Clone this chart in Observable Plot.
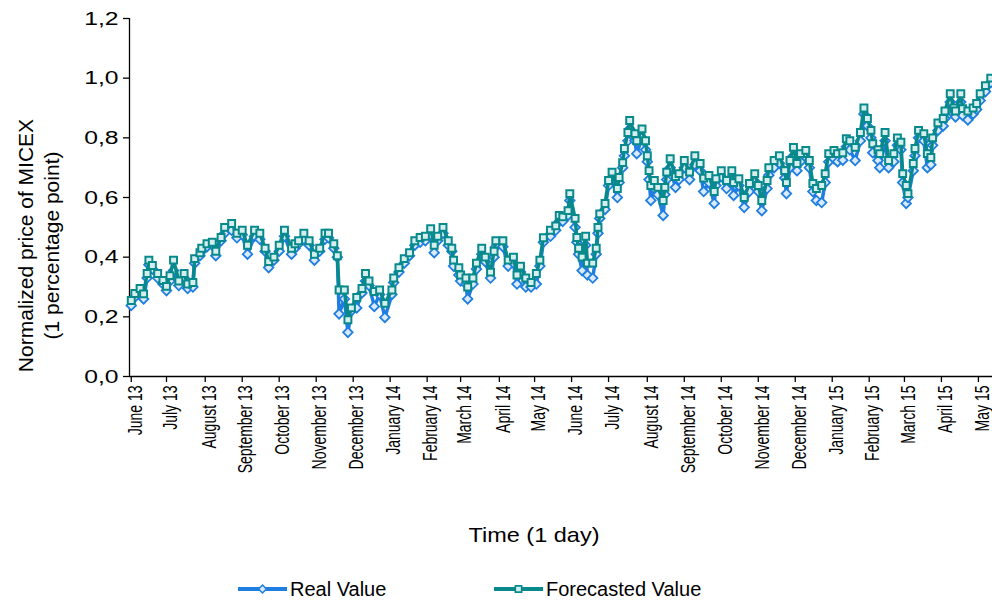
<!DOCTYPE html>
<html>
<head>
<meta charset="utf-8">
<script src="https://cdn.jsdelivr.net/npm/d3@7"></script>
<script src="https://cdn.jsdelivr.net/npm/@observablehq/plot@0.6"></script>
<style>
  body { margin: 0; background: #fff; font-family: "Liberation Sans", Arial, sans-serif; }
  #legend { position: relative; width: 992px; height: 46px; }
  .item { position: absolute; top: 16px; height: 26px; display: flex; align-items: center; font-size: 20px; color: #000; white-space: nowrap; }
  .item svg { margin-right: 3px; }
</style>
</head>
<body>
<div id="chart"></div>
<div id="legend"></div>
<script>
// Trading-day index (0 = start of June 2013)
const days = [
  0,2,5,7,9,10,12,15,18,20,
  22,24,27,30,32,35,36,39,40,43,
  46,48,51,53,57,60,63,66,70,73,
  76,78,81,84,87,91,93,95,98,101,
  104,107,110,112,115,117,118,121,123,125,
  128,131,133,135,138,141,144,148,149,152,
  155,158,161,164,167,170,172,174,177,180,
  182,183,186,187,190,191,194,196,199,201,
  204,206,207,211,214,217,219,221,224,227,
  230,232,234,238,241,243,245,248,249,252,
  253,254,256,258,259,262,264,265,266,269,
  271,273,276,277,279,280,282,283,286,287,
  290,292,293,294,295,297,299,302,303,304,
  306,309,311,314,317,320,323,325,328,331,
  332,335,338,341,342,345,348,351,354,356,
  358,361,362,365,368,371,372,374,376,378,
  380,383,385,387,389,392,394,396,399,401,
  404,406,408,411,414,416,418,420,421,424,
  425,428,430,433,435,437,438,440,441,444,
  445,447,450,452,454,455,458,461,462,465,
  467,468,471,472,475,478,480,482,485,488
];

const realValue = [
  0.238,0.266,0.280,0.260,0.330,0.375,0.360,0.330,0.310,0.288,
  0.320,0.355,0.305,0.330,0.295,0.300,0.380,0.405,0.420,0.435,
  0.440,0.405,0.455,0.480,0.490,0.465,0.475,0.410,0.470,0.460,
  0.420,0.365,0.390,0.420,0.470,0.410,0.430,0.445,0.460,0.440,
  0.390,0.420,0.460,0.465,0.430,0.400,0.210,0.260,0.148,0.220,
  0.230,0.280,0.320,0.305,0.235,0.275,0.198,0.275,0.315,0.350,
  0.380,0.405,0.440,0.450,0.455,0.475,0.415,0.455,0.480,0.440,
  0.420,0.370,0.340,0.320,0.310,0.260,0.310,0.360,0.410,0.385,
  0.330,0.400,0.435,0.435,0.370,0.380,0.310,0.350,0.300,0.300,
  0.310,0.370,0.450,0.470,0.490,0.520,0.520,0.540,0.590,0.500,
  0.450,0.410,0.355,0.440,0.340,0.330,0.410,0.480,0.530,0.560,
  0.640,0.660,0.600,0.650,0.700,0.740,0.790,0.830,0.790,0.747,
  0.800,0.760,0.720,0.660,0.590,0.630,0.610,0.540,0.610,0.660,
  0.700,0.634,0.660,0.700,0.660,0.710,0.690,0.620,0.650,0.580,
  0.640,0.670,0.630,0.665,0.607,0.640,0.567,0.620,0.655,0.620,
  0.556,0.630,0.675,0.700,0.715,0.665,0.613,0.700,0.740,0.690,
  0.720,0.735,0.700,0.620,0.590,0.583,0.650,0.720,0.730,0.720,
  0.725,0.770,0.760,0.724,0.790,0.880,0.840,0.800,0.750,0.724,
  0.700,0.790,0.700,0.720,0.775,0.760,0.650,0.580,0.600,0.690,
  0.740,0.800,0.790,0.700,0.710,0.775,0.825,0.840,0.865,0.920,
  0.880,0.870,0.920,0.875,0.860,0.880,0.895,0.925,0.955,0.985
];

const forecastValue = [
  0.255,0.278,0.295,0.277,0.345,0.390,0.372,0.345,0.322,0.302,
  0.338,0.390,0.320,0.345,0.310,0.315,0.395,0.415,0.430,0.445,
  0.450,0.420,0.466,0.500,0.513,0.480,0.490,0.440,0.490,0.480,
  0.430,0.385,0.400,0.440,0.490,0.430,0.445,0.455,0.480,0.455,
  0.410,0.430,0.480,0.480,0.445,0.405,0.290,0.290,0.190,0.230,
  0.265,0.295,0.345,0.320,0.285,0.290,0.245,0.290,0.330,0.365,
  0.395,0.415,0.455,0.466,0.470,0.495,0.440,0.470,0.500,0.455,
  0.430,0.390,0.365,0.340,0.330,0.300,0.330,0.380,0.430,0.400,
  0.350,0.420,0.455,0.455,0.390,0.400,0.340,0.370,0.330,0.315,
  0.345,0.390,0.465,0.490,0.505,0.540,0.535,0.556,0.613,0.530,
  0.466,0.430,0.400,0.470,0.380,0.380,0.430,0.500,0.545,0.580,
  0.657,0.685,0.630,0.667,0.717,0.764,0.818,0.858,0.814,0.790,
  0.830,0.790,0.740,0.690,0.640,0.657,0.634,0.590,0.634,0.685,
  0.730,0.670,0.680,0.724,0.685,0.740,0.714,0.665,0.674,0.620,
  0.663,0.690,0.657,0.690,0.650,0.663,0.600,0.647,0.680,0.640,
  0.590,0.657,0.700,0.724,0.740,0.690,0.650,0.724,0.768,0.714,
  0.747,0.758,0.724,0.647,0.630,0.640,0.680,0.747,0.758,0.747,
  0.750,0.797,0.790,0.768,0.818,0.900,0.865,0.825,0.780,0.760,
  0.747,0.818,0.724,0.747,0.800,0.785,0.680,0.640,0.613,0.714,
  0.764,0.825,0.814,0.747,0.734,0.800,0.850,0.865,0.890,0.948,
  0.900,0.890,0.948,0.898,0.890,0.900,0.915,0.948,0.975,1.000
];

const monthTickDays = [0,20,42,63,84,105,126,147,168,187,209,229,250,271,293,314,335,356,377,398,419,439,460,481];
const monthLabels = ["June 13","July 13","August 13","September 13","October 13","November 13","December 13",
  "January 14","February 14","March 14","April 14","May 14","June 14","July 14","August 14","September 14",
  "October 14","November 14","December 14","January 15","February 15","March 15","April 15","May 15"];
const yTicks = [0, 0.2, 0.4, 0.6, 0.8, 1.0, 1.2];

const seriesNames = ["Real Value", "Forecasted Value"];
const yTitle = "Normalized price of MICEX\n(1 percentage point)";
const xTitle = "Time (1 day)";

const BLUE = "#1f7ee0";
const TEAL = "#088a8c";
const FONT = "Liberation Sans, Arial, sans-serif";

const data = days.map((d, i) => ({day: d, real: realValue[i], forecast: forecastValue[i]}));

const W = 992, H = 560;
const chart = Plot.plot({
  width: W,
  height: H,
  marginLeft: 129,
  marginRight: 0,
  marginTop: 18,
  marginBottom: H - 376,
  style: {fontFamily: FONT, background: "#fff", color: "#000", overflow: "visible"},
  x: {domain: [-1, 489]},
  y: {domain: [0, 1.2]},
  marks: [
    Plot.axisY({ticks: yTicks, tickFormat: d => d.toFixed(1).replace(".", ","), tickSize: 6, tickPadding: 5, fontSize: 19, label: null, stroke: "#000", strokeWidth: 1.3}),
    Plot.axisX({ticks: monthTickDays, tickFormat: d => monthLabels[monthTickDays.indexOf(d)], tickRotate: -90, tickSize: 6, tickPadding: 3, fontSize: 14, label: null, stroke: "#000", strokeWidth: 1.3}),
    Plot.ruleX([-1], {stroke: "#000", strokeWidth: 1.3}),
    Plot.ruleY([0], {stroke: "#000", strokeWidth: 1.3}),
    Plot.line(data, {x: "day", y: "real", stroke: BLUE, strokeWidth: 3.5}),
    Plot.dot(data, {x: "day", y: "real", symbol: "diamond2", r: 4.3, stroke: BLUE, fill: "#d9eafc", strokeWidth: 1.8}),
    Plot.line(data, {x: "day", y: "forecast", stroke: TEAL, strokeWidth: 3.5}),
    Plot.dot(data, {x: "day", y: "forecast", symbol: "square", r: 3.9, stroke: TEAL, fill: "#d6eeee", strokeWidth: 2}),
    Plot.text([yTitle], {frameAnchor: "left", textAnchor: "middle", rotate: -90, dx: -92, dy: 48, fontSize: 21, lineHeight: 1.25, fill: "#000"}),
    Plot.text([xTitle], {frameAnchor: "bottom", dy: 165, dx: -27, fontSize: 21, fill: "#000"})
  ]
});
// Widen tick label glyphs to match the reference's horizontally stretched look
chart.querySelectorAll('g[aria-label="x-axis tick label"] text').forEach(t => {
  t.setAttribute("transform", (t.getAttribute("transform") || "") + " translate(0,4) scale(1,1.4)");
});
chart.querySelectorAll('g[aria-label="y-axis tick label"] text').forEach(t => {
  t.setAttribute("transform", (t.getAttribute("transform") || "") + " scale(1.3,1)");
});
chart.querySelectorAll('g[aria-label="text"] text').forEach(t => {
  if (t.textContent === xTitle) t.setAttribute("transform", (t.getAttribute("transform") || "") + " scale(1.12,1)");
});
document.getElementById("chart").appendChild(chart);

// Legend
const legend = document.getElementById("legend");
const items = [
  {name: seriesNames[0], color: BLUE, fill: "#d9eafc", symbol: d3.symbolDiamond2, left: 238},
  {name: seriesNames[1], color: TEAL, fill: "#d6eeee", symbol: d3.symbolSquare, left: 494}
];
for (const it of items) {
  const div = document.createElement("div");
  div.className = "item";
  div.style.left = it.left + "px";
  const sw = d3.create("svg").attr("width", 49).attr("height", 26);
  sw.append("line").attr("x1", 0).attr("x2", 49).attr("y1", 13).attr("y2", 13)
    .attr("stroke", it.color).attr("stroke-width", 4).attr("stroke-linecap", "round");
  sw.append("path").attr("d", d3.symbol(it.symbol, 40)()).attr("transform", "translate(24.5,13)")
    .attr("stroke", it.color).attr("fill", it.fill).attr("stroke-width", 1.6);
  div.appendChild(sw.node());
  const span = document.createElement("span");
  span.textContent = it.name;
  div.appendChild(span);
  legend.appendChild(div);
}
</script>
</body>
</html>
